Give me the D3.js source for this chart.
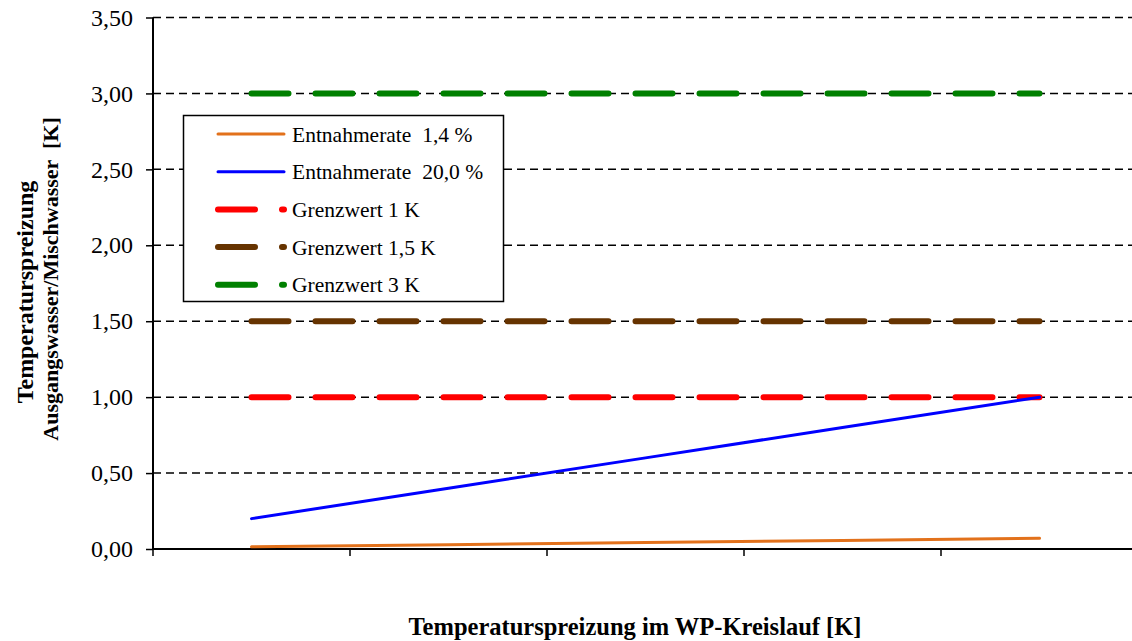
<!DOCTYPE html>
<html>
<head>
<meta charset="utf-8">
<script src="https://cdn.jsdelivr.net/npm/d3@7"></script>
<style>
  body { margin: 0; background: #fff; }
  text { font-family: "Liberation Serif", "Times New Roman", serif; fill: #000; }
</style>
</head>
<body>
<script>
// Daten
var categories = [1, 2, 3, 4, 5];
var entnahme14 = [0.014, 0.028, 0.042, 0.056, 0.07];
var entnahme20 = [0.2, 0.4, 0.6, 0.8, 1.0];
var grenz1 = [1, 1, 1, 1, 1];
var grenz15 = [1.5, 1.5, 1.5, 1.5, 1.5];
var grenz3 = [3, 3, 3, 3, 3];
var yTicks = [0, 0.5, 1, 1.5, 2, 2.5, 3, 3.5];

var series = [
  { name: 'Entnahmerate  1,4 %', values: entnahme14, color: '#E2711B', width: 3, dash: null },
  { name: 'Entnahmerate  20,0 %', values: entnahme20, color: '#0000FF', width: 3, dash: null },
  { name: 'Grenzwert 1 K', values: grenz1, color: '#FF0000', width: 6, dash: '37 27' },
  { name: 'Grenzwert 1,5 K', values: grenz15, color: '#663300', width: 6, dash: '37 27' },
  { name: 'Grenzwert 3 K', values: grenz3, color: '#008000', width: 6, dash: '37 27' }
];

var W = 1132, H = 641;
var plotLeft = 153, plotRight = 1138, plotTop = 17.5, plotBottom = 549;

var svg = d3.select('body').append('svg')
  .attr('width', W)
  .attr('height', H);

var x = d3.scaleBand()
  .domain(categories)
  .range([plotLeft, plotRight]);

var y = d3.scaleLinear()
  .domain([0, 3.5])
  .range([plotBottom, plotTop]);

// Gitterlinien
svg.append('g').selectAll('line')
  .data(yTicks.filter(function(d) { return d > 0; }))
  .enter().append('line')
  .attr('x1', plotLeft).attr('x2', W)
  .attr('y1', function(d) { return y(d); })
  .attr('y2', function(d) { return y(d); })
  .attr('stroke', '#000')
  .attr('stroke-width', 1.5)
  .attr('stroke-dasharray', '8 5');

// Y-Achse
var yAxis = d3.axisLeft(y)
  .tickValues(yTicks)
  .tickSize(7)
  .tickPadding(13)
  .tickFormat(function(d) { return d3.format('.2f')(d).replace('.', ','); });

var gy = svg.append('g')
  .attr('transform', 'translate(' + plotLeft + ',0)')
  .call(yAxis);
gy.select('.domain').attr('stroke-width', 2).attr('d', 'M0,' + plotTop + 'V' + plotBottom);
gy.selectAll('.tick line').attr('stroke-width', 1.5);
gy.selectAll('.tick text')
  .style('font-family', '"Liberation Serif", serif')
  .style('font-size', '24px');

// X-Achse (ohne Beschriftung)
svg.append('line')
  .attr('x1', plotLeft).attr('x2', W)
  .attr('y1', plotBottom).attr('y2', plotBottom)
  .attr('stroke', '#000').attr('stroke-width', 2);

svg.append('g').selectAll('line')
  .data(categories)
  .enter().append('line')
  .attr('x1', function(d) { return x(d); })
  .attr('x2', function(d) { return x(d); })
  .attr('y1', plotBottom).attr('y2', plotBottom + 7)
  .attr('stroke', '#000').attr('stroke-width', 1.5);

// Linien
var line = d3.line()
  .x(function(d, i) { return x(categories[i]) + x.bandwidth() / 2; })
  .y(function(d) { return y(d); });

svg.append('g').selectAll('path')
  .data(series.slice().reverse())
  .enter().append('path')
  .attr('d', function(d) { return line(d.values); })
  .attr('fill', 'none')
  .attr('stroke', function(d) { return d.color; })
  .attr('stroke-width', function(d) { return d.width; })
  .attr('stroke-linecap', 'round')
  .attr('stroke-dasharray', function(d) { return d.dash; });

// Legende
var legend = svg.append('g');
legend.append('rect')
  .attr('x', 183.5).attr('y', 115.5)
  .attr('width', 320).attr('height', 186)
  .attr('fill', '#fff')
  .attr('stroke', '#000')
  .attr('stroke-width', 1.5);

var items = legend.selectAll('g.item')
  .data(series)
  .enter().append('g')
  .attr('class', 'item')
  .attr('transform', function(d, i) { return 'translate(0,' + (134 + i * 37.7) + ')'; });

items.append('line')
  .attr('x1', 218).attr('x2', 284)
  .attr('y1', 0).attr('y2', 0)
  .attr('stroke', function(d) { return d.color; })
  .attr('stroke-width', function(d) { return d.width; })
  .attr('stroke-linecap', 'round')
  .attr('stroke-dasharray', function(d) { return d.dash; });

items.append('text')
  .attr('x', 292)
  .attr('y', 0)
  .attr('dy', '0.35em')
  .style('font-size', '21.5px')
  .style('white-space', 'pre')
  .text(function(d) { return d.name; });

// Achsentitel
svg.append('text')
  .attr('x', 635).attr('y', 635)
  .attr('text-anchor', 'middle')
  .style('font-size', '24.5px')
  .style('font-weight', 'bold')
  .text('Temperaturspreizung im WP-Kreislauf [K]');

svg.append('text')
  .attr('transform', 'translate(33,292) rotate(-90)')
  .attr('text-anchor', 'middle')
  .style('font-size', '24px')
  .style('font-weight', 'bold')
  .text('Temperaturspreizung');

svg.append('text')
  .attr('transform', 'translate(58,279) rotate(-90)')
  .attr('text-anchor', 'middle')
  .style('font-size', '22px')
  .style('font-weight', 'bold')
  .style('white-space', 'pre')
  .text('Ausgangswasser/Mischwasser  [K]');
</script>
</body>
</html>
